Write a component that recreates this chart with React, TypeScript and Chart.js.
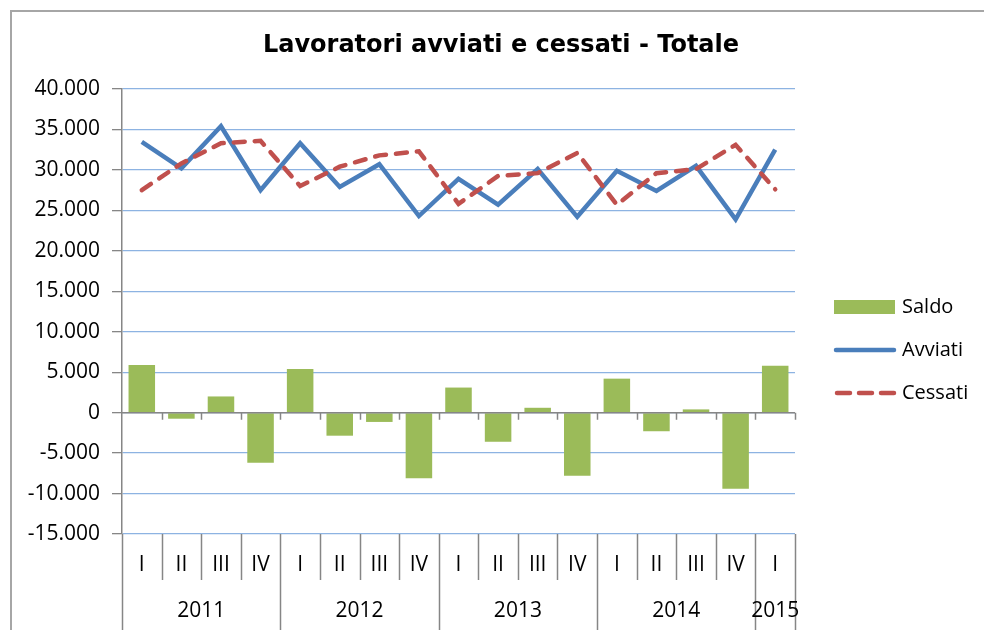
import React, { useEffect, useRef } from 'react';
import { Chart, registerables } from 'chart.js';

Chart.register(...registerables);

const chartTitle = 'Lavoratori avviati e cessati - Totale';
const quarters = ['I', 'II', 'III', 'IV', 'I', 'II', 'III', 'IV', 'I', 'II', 'III', 'IV', 'I', 'II', 'III', 'IV', 'I'];
const years = ['2011', '2012', '2013', '2014', '2015'];
const yearSpans = [4, 4, 4, 4, 1];
const saldo = [5900, -750, 2000, -6200, 5400, -2850, -1150, -8100, 3100, -3600, 600, -7800, 4200, -2300, 400, -9400, 5800];
const avviati = [33450, 30200, 35400, 27500, 33300, 27900, 30700, 24300, 28900, 25700, 30100, 24200, 29900, 27400, 30500, 23900, 32500];
const cessati = [27500, 30800, 33300, 33600, 28000, 30400, 31800, 32300, 25800, 29250, 29600, 32100, 25700, 29600, 30100, 33100, 27600];
const yMin = -15000;
const yMax = 40000;
const yStep = 5000;
const seriesNames = ['Saldo', 'Avviati', 'Cessati'];

const GREEN = '#9BBB59';
const BLUE = '#4A7EBB';
const RED = '#C0504D';
const AXIS = '#868686';
const GRID = '#8DB3E2';
const FONT = '"Open Sans", sans-serif';

function fmt(v: number): string {
  const n = Math.round(Math.abs(v));
  const s = n.toString().replace(/\B(?=(\d{3})+(?!\d))/g, '.');
  return (v < 0 ? '-' : '') + s;
}

const decorPlugin = {
  id: 'decor',
  afterDatasetsDraw(chart: any) {
    const ctx = chart.ctx;
    const area = chart.chartArea;
    const ys = chart.scales.y;
    const n = quarters.length;
    const catW = (area.right - area.left) / n;
    const y0 = ys.getPixelForValue(0);
    ctx.save();
    ctx.strokeStyle = AXIS;
    ctx.lineWidth = 1.5;
    ctx.beginPath();
    ctx.moveTo(area.left, y0);
    ctx.lineTo(area.right, y0);
    for (let k = 1; k <= n; k++) {
      const x = Math.round(area.left + k * catW) + 0.5;
      ctx.moveTo(x, y0);
      ctx.lineTo(x, y0 + 7);
    }
    ctx.stroke();
    ctx.restore();
  },
  afterDraw(chart: any) {
    const ctx = chart.ctx;
    const area = chart.chartArea;
    const n = quarters.length;
    const catW = (area.right - area.left) / n;
    const H = chart.height;
    ctx.save();
    // outer frame
    ctx.strokeStyle = '#A6A6A6';
    ctx.lineWidth = 2;
    ctx.beginPath();
    ctx.moveTo(11, H);
    ctx.lineTo(11, 11);
    ctx.lineTo(chart.width, 11);
    ctx.stroke();

    // title
    ctx.fillStyle = '#000';
    ctx.font = 'bold 24px "DejaVu Sans", sans-serif';
    ctx.textAlign = 'center';
    ctx.textBaseline = 'middle';
    ctx.fillText(chartTitle, 501, 46);

    // y axis extension & category separators
    ctx.strokeStyle = AXIS;
    ctx.lineWidth = 1.5;
    const yearBounds = new Set<number>();
    let acc = 0;
    yearBounds.add(0);
    yearSpans.forEach((s) => { acc += s; yearBounds.add(acc); });
    ctx.beginPath();
    for (let k = 0; k <= n; k++) {
      const x = Math.round(area.left + k * catW) + 0.5;
      ctx.moveTo(x, area.bottom);
      ctx.lineTo(x, yearBounds.has(k) ? H : area.bottom + 46);
    }
    ctx.stroke();

    // quarter labels
    ctx.fillStyle = '#000';
    ctx.font = '21px ' + FONT;
    ctx.textAlign = 'center';
    ctx.textBaseline = 'middle';
    quarters.forEach((q, i) => {
      ctx.fillText(q, area.left + (i + 0.5) * catW, area.bottom + 31);
    });
    // year labels
    let start = 0;
    years.forEach((yr, j) => {
      const span = yearSpans[j];
      const cx = area.left + (start + span / 2) * catW;
      ctx.fillText(yr, cx, area.bottom + 77);
      start += span;
    });

    // legend
    const lx = 834;
    const tx = 902;
    const ly = [307, 350, 393];
    ctx.fillStyle = GREEN;
    ctx.fillRect(lx, ly[0] - 7, 61, 14);
    ctx.lineCap = 'round';
    ctx.lineWidth = 4.5;
    ctx.strokeStyle = BLUE;
    ctx.beginPath();
    ctx.moveTo(lx + 2, ly[1]);
    ctx.lineTo(lx + 60, ly[1]);
    ctx.stroke();
    ctx.strokeStyle = RED;
    ctx.setLineDash([13, 9]);
    ctx.beginPath();
    ctx.moveTo(lx + 3, ly[2]);
    ctx.lineTo(lx + 60, ly[2]);
    ctx.stroke();
    ctx.setLineDash([]);
    ctx.fillStyle = '#000';
    ctx.textAlign = 'left';
    ctx.font = '20px ' + FONT;
    seriesNames.forEach((name, i) => ctx.fillText(name, tx, ly[i]));
    ctx.restore();
  },
};

export default function App() {
  const ref = useRef<HTMLCanvasElement | null>(null);
  useEffect(() => {
    document.body.style.margin = '0';
    if (!ref.current) return;
    const chart = new Chart(ref.current, {
      type: 'bar',
      data: {
        labels: quarters,
        datasets: [
          {
            type: 'line',
            label: seriesNames[2],
            data: cessati,
            borderColor: RED,
            borderWidth: 4.5,
            borderDash: [11, 10],
            borderCapStyle: 'round',
            pointRadius: 0,
            tension: 0,
            fill: false,
            order: 1,
          } as any,
          {
            type: 'line',
            label: seriesNames[1],
            data: avviati,
            borderColor: BLUE,
            borderWidth: 4.5,
            borderJoinStyle: 'miter',
            pointRadius: 0,
            tension: 0,
            fill: false,
            order: 2,
          } as any,
          {
            type: 'bar',
            label: seriesNames[0],
            data: saldo,
            backgroundColor: GREEN,
            borderWidth: 0,
            barPercentage: 0.67,
            categoryPercentage: 1,
            order: 3,
          } as any,
        ],
      },
      options: {
        animation: false,
        responsive: false,
        maintainAspectRatio: false,
        layout: { padding: { left: 0, top: 89, right: 189, bottom: 96 } },
        plugins: {
          legend: { display: false },
          title: { display: false },
          tooltip: { enabled: false },
        },
        scales: {
          x: { display: false, offset: true, grid: { display: false } },
          y: {
            min: yMin,
            max: yMax,
            afterFit: (s: any) => { s.width = 122; },
            ticks: {
              stepSize: yStep,
              color: '#000',
              padding: 12,
              font: { family: FONT, size: 21 },
              callback: (v: any) => fmt(Number(v)),
            },
            grid: { color: GRID, lineWidth: 1.3, tickColor: AXIS, tickLength: 10, drawTicks: true },
            border: { color: AXIS, width: 1.5 },
          },
        },
      },
      plugins: [decorPlugin],
    });
    return () => chart.destroy();
  }, []);
  return (
    <div style={{ width: 984, height: 630, background: '#fff' }}>
      <canvas ref={ref} width={984} height={630} style={{ display: 'block' }} />
    </div>
  );
}
